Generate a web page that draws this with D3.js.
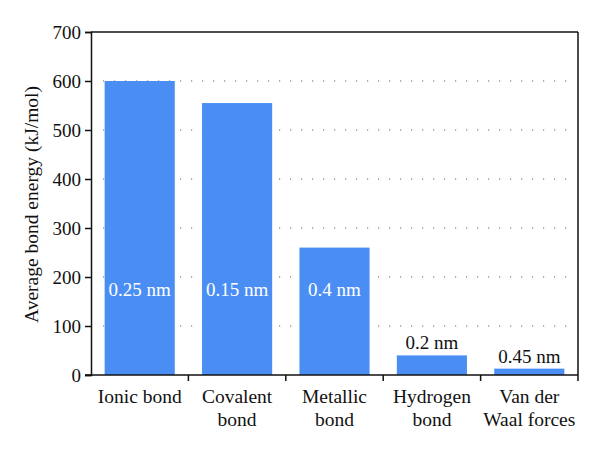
<!DOCTYPE html>
<html><head><meta charset="utf-8">
<script src="https://cdn.jsdelivr.net/npm/d3@7"></script>
<style>body{margin:0;background:#fff}svg{display:block}text{font-family:"Liberation Serif","DejaVu Serif",serif}</style>
</head><body><svg id="c" width="600" height="451"></svg>
<script>
const categories = [["Ionic bond"],["Covalent","bond"],["Metallic","bond"],["Hydrogen","bond"],["Van der","Waal forces"]];
const values = [600, 555, 260, 40, 13];
const barLabels = ["0.25 nm","0.15 nm","0.4 nm","0.2 nm","0.45 nm"];
const labelInside = [true,true,true,false,false];
const yTicks = [0,100,200,300,400,500,600,700];

const svg = d3.select("#c");
const m = {l:91, r:22, t:32, b:76};
const W = 600, H = 451;
const iw = W-m.l-m.r, ih = H-m.t-m.b;
const g = svg.append("g").attr("transform",`translate(${m.l},${m.t})`);
const x = d3.scaleBand().domain(d3.range(categories.length)).range([0,iw]).paddingInner(0.28).paddingOuter(0.14);
const y = d3.scaleLinear().domain([0,700]).range([ih,0]);
const FS = 19;

// gridlines
g.append("g").selectAll("line").data(yTicks.filter(t=>t>0&&t<700)).join("line")
 .attr("x1",12).attr("x2",iw-3).attr("y1",d=>y(d)).attr("y2",d=>y(d))
 .attr("stroke","#666").attr("stroke-width",1.2).attr("stroke-dasharray","1.2,9.8");

// bars
g.append("g").selectAll("rect").data(values).join("rect")
 .attr("x",(d,i)=>x(i)).attr("width",x.bandwidth())
 .attr("y",d=>y(d)).attr("height",d=>ih-y(d)).attr("fill","#4a8ef3");

// labels
g.append("g").selectAll("text").data(barLabels).join("text")
 .attr("x",(d,i)=>x(i)+x.bandwidth()/2)
 .attr("y",(d,i)=>labelInside[i]? y(200)+19 : y(values[i])-6)
 .attr("text-anchor","middle").attr("font-size",FS)
 .attr("fill",(d,i)=>labelInside[i]?"#fff":"#111").text(d=>d);

// frame
g.append("line").attr("x1",0).attr("x2",iw).attr("y1",0).attr("y2",0).attr("stroke","#111").attr("stroke-width",1.5);
g.append("line").attr("x1",iw).attr("x2",iw).attr("y1",0).attr("y2",ih).attr("stroke","#111").attr("stroke-width",1.5);

// y axis
const ya = g.append("g").call(d3.axisLeft(y).tickValues(yTicks).tickSize(6).tickPadding(4));
ya.selectAll("text").attr("font-size",FS).attr("fill","#111").attr("font-family","Liberation Serif, serif");
ya.select(".domain").attr("stroke","#111").attr("stroke-width",1.5);
ya.selectAll(".tick line").attr("stroke","#111").attr("stroke-width",1.5);

// x axis
const xa = g.append("g").attr("transform",`translate(0,${ih})`);
xa.append("line").attr("x1",-6).attr("x2",iw).attr("stroke","#111").attr("stroke-width",1.5);
const step = x.step();
xa.selectAll("line.t").data(d3.range(1,categories.length+1)).join("line").attr("class","t")
 .attr("x1",d=>d===categories.length?iw:x(d)-x.paddingInner()*step/2).attr("x2",d=>d===categories.length?iw:x(d)-x.paddingInner()*step/2)
 .attr("y1",0).attr("y2",6).attr("stroke","#111").attr("stroke-width",1.5);
const lab = xa.selectAll("text").data(categories).join("text")
 .attr("x",(d,i)=>x(i)+x.bandwidth()/2).attr("y",28).attr("text-anchor","middle").attr("font-size",FS+0.5).attr("fill","#111");
lab.selectAll("tspan").data(d=>d).join("tspan").attr("x",function(){return this.parentNode.getAttribute("x");})
 .attr("dy",(d,i)=>i===0?0:23).text(d=>d);

// y title
svg.append("text").attr("transform",`translate(38,${m.t+ih/2+1}) rotate(-90)`).attr("text-anchor","middle")
 .attr("font-size",FS+0.5).attr("fill","#111").text("Average bond energy (kJ/mol)");
</script></body></html>
